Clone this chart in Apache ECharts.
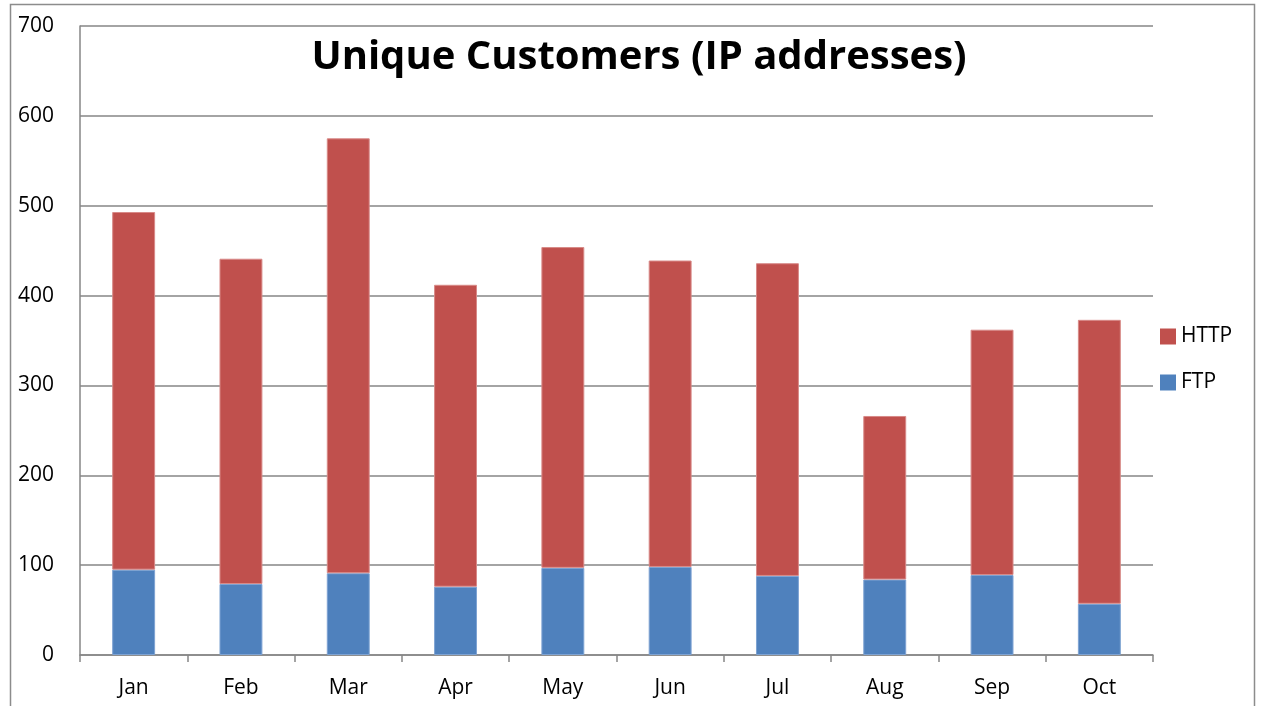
<!DOCTYPE html>
<html>
<head>
<meta charset="utf-8">
<script src="https://cdn.jsdelivr.net/npm/echarts@6/dist/echarts.min.js"></script>
<style>
  html, body { margin: 0; padding: 0; background: #fff; }
  #chart { width: 1261px; height: 706px; }
</style>
</head>
<body>
<div id="chart"></div>
<script>
const months = ['Jan', 'Feb', 'Mar', 'Apr', 'May', 'Jun', 'Jul', 'Aug', 'Sep', 'Oct'];
const ftp = [95, 79, 91, 76, 97, 98, 88, 84, 89, 57];
const http = [398, 362, 484, 336, 357, 341, 348, 182, 273, 316];
const yTicks = [0, 100, 200, 300, 400, 500, 600, 700];

const font = 'Open Sans';
const chart = echarts.init(document.getElementById('chart'));

chart.setOption({
  animation: false,
  textStyle: { fontFamily: font },
  title: {
    text: 'Unique Customers (IP addresses)',
    left: 634,
    textAlign: 'center',
    top: 33,
    textStyle: { fontFamily: font, fontSize: 40, fontWeight: 'bold', color: '#000' }
  },
  graphic: [{
    type: 'rect',
    shape: { x: 10.5, y: 4.5, width: 1244, height: 720 },
    style: { fill: 'none', stroke: '#8c8c8c', lineWidth: 1.5 },
    silent: true
  }],
  legend: {
    data: ['HTTP', 'FTP'],
    orient: 'vertical',
    left: 1155,
    top: 321,
    icon: 'rect',
    itemWidth: 16,
    itemHeight: 16,
    itemGap: 25,
    itemStyle: { borderWidth: 0 },
    textStyle: { fontFamily: font, fontSize: 21, color: '#000' }
  },
  grid: { left: 80, right: 108, top: 26, bottom: 51 },
  xAxis: {
    type: 'category',
    data: months,
    axisLine: { lineStyle: { color: '#868686', width: 1.5 } },
    axisTick: { show: true, length: 7, lineStyle: { color: '#868686', width: 1.5 } },
    axisLabel: { fontSize: 21, color: '#000', margin: 23, fontFamily: font }
  },
  yAxis: {
    type: 'value',
    min: yTicks[0],
    max: yTicks[yTicks.length - 1],
    interval: 100,
    axisLine: { show: true, lineStyle: { color: '#868686', width: 1.5 } },
    axisTick: { show: false },
    splitLine: { lineStyle: { color: '#868686', width: 1.5 } },
    axisLabel: { fontSize: 21, color: '#000', margin: 26, fontFamily: font }
  },
  series: [
    {
      name: 'FTP',
      type: 'bar',
      stack: 'total',
      data: ftp,
      barWidth: '40%',
      itemStyle: { color: '#4f81bd', borderColor: '#7ea3d3', borderWidth: 1 }
    },
    {
      name: 'HTTP',
      type: 'bar',
      stack: 'total',
      data: http,
      barWidth: '40%',
      itemStyle: { color: '#c0504d', borderColor: '#d88a88', borderWidth: 1 }
    }
  ]
});
window.addEventListener('resize', chart.resize);
</script>
</body>
</html>
